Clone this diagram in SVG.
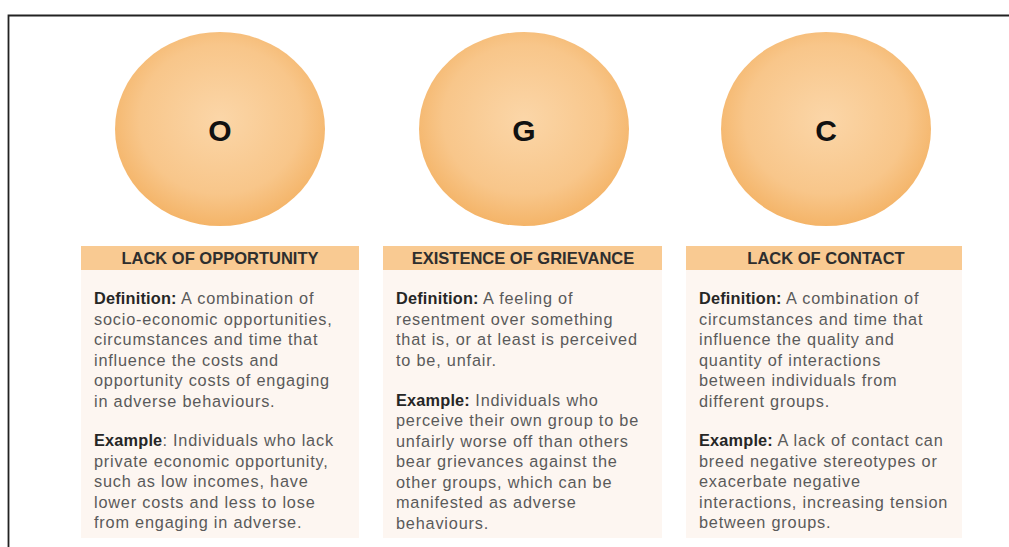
<svg xmlns="http://www.w3.org/2000/svg" width="1009" height="547" viewBox="0 0 1009 547">
<defs>
<radialGradient id="gc" cx="50%" cy="45%" r="55%">
<stop offset="0" stop-color="#fbd6a8"/>
<stop offset="0.7" stop-color="#f8c68a"/>
<stop offset="1" stop-color="#f4b468"/>
</radialGradient>
<style>
.hd{font-family:"Liberation Sans",Arial,sans-serif;font-size:16.5px;font-weight:bold;fill:#2e2e2e;text-anchor:middle}
.bd{font-family:"Liberation Sans",Arial,sans-serif;font-size:16.3px;fill:#5a5a5a;letter-spacing:0.8px}
.b{font-weight:bold;fill:#262626;letter-spacing:0.2px}
.lt{font-family:"Liberation Sans",Arial,sans-serif;font-size:30px;font-weight:bold;fill:#111;text-anchor:middle}
.hb{fill:#f9ca92}
.cb{fill:#fdf6f1}
</style>
</defs>
<rect width="1009" height="547" fill="#fff"/>
<path d="M8.5,547 V15.5 H1009" fill="none" stroke="#222" stroke-width="1.8"/>
<g id="node-o">
<ellipse cx="220" cy="129" rx="105" ry="97" fill="url(#gc)"/>
<text class="lt" x="220" y="141">O</text>
<rect class="cb" x="81" y="270" width="278" height="268"/>
<rect class="hb" x="81" y="246" width="278" height="24"/>
<text class="hd" x="220" y="264">LACK OF OPPORTUNITY</text>
<text class="bd" x="94"><tspan x="94" y="304"><tspan class="b">Definition:</tspan> A combination of</tspan><tspan x="94" y="324.5">socio-economic opportunities,</tspan><tspan x="94" y="345">circumstances and time that</tspan><tspan x="94" y="365.5">influence the costs and</tspan><tspan x="94" y="386">opportunity costs of engaging</tspan><tspan x="94" y="406.5">in adverse behaviours.</tspan><tspan x="94" y="446"><tspan class="b">Example</tspan>: Individuals who lack</tspan><tspan x="94" y="466.5">private economic opportunity,</tspan><tspan x="94" y="487">such as low incomes, have</tspan><tspan x="94" y="507.5">lower costs and less to lose</tspan><tspan x="94" y="528">from engaging in adverse.</tspan></text>
</g>
<g id="node-g">
<ellipse cx="524" cy="129" rx="105" ry="97" fill="url(#gc)"/>
<text class="lt" x="524" y="141">G</text>
<rect class="cb" x="383" y="270" width="279" height="268"/>
<rect class="hb" x="383" y="246" width="279" height="24"/>
<text class="hd" x="523" y="264">EXISTENCE OF GRIEVANCE</text>
<text class="bd" x="396"><tspan x="396" y="304"><tspan class="b">Definition:</tspan> A feeling of</tspan><tspan x="396" y="324.5">resentment over something</tspan><tspan x="396" y="345">that is, or at least is perceived</tspan><tspan x="396" y="365.5">to be, unfair.</tspan><tspan x="396" y="405.5"><tspan class="b">Example:</tspan> Individuals who</tspan><tspan x="396" y="426">perceive their own group to be</tspan><tspan x="396" y="446.5">unfairly worse off than others</tspan><tspan x="396" y="467">bear grievances against the</tspan><tspan x="396" y="487.5">other groups, which can be</tspan><tspan x="396" y="508">manifested as adverse</tspan><tspan x="396" y="528.5">behaviours.</tspan></text>
</g>
<g id="node-c">
<ellipse cx="826" cy="129" rx="105" ry="97" fill="url(#gc)"/>
<text class="lt" x="826" y="141">C</text>
<rect class="cb" x="686" y="270" width="276" height="268"/>
<rect class="hb" x="686" y="246" width="276" height="24"/>
<text class="hd" x="826" y="264">LACK OF CONTACT</text>
<text class="bd" x="699"><tspan x="699" y="304"><tspan class="b">Definition:</tspan> A combination of</tspan><tspan x="699" y="324.5">circumstances and time that</tspan><tspan x="699" y="345">influence the quality and</tspan><tspan x="699" y="365.5">quantity of interactions</tspan><tspan x="699" y="386">between individuals from</tspan><tspan x="699" y="406.5">different groups.</tspan><tspan x="699" y="446"><tspan class="b">Example:</tspan> A lack of contact can</tspan><tspan x="699" y="466.5">breed negative stereotypes or</tspan><tspan x="699" y="487">exacerbate negative</tspan><tspan x="699" y="507.5">interactions, increasing tension</tspan><tspan x="699" y="528">between groups.</tspan></text>
</g>
<g id="connectors"/>
</svg>
